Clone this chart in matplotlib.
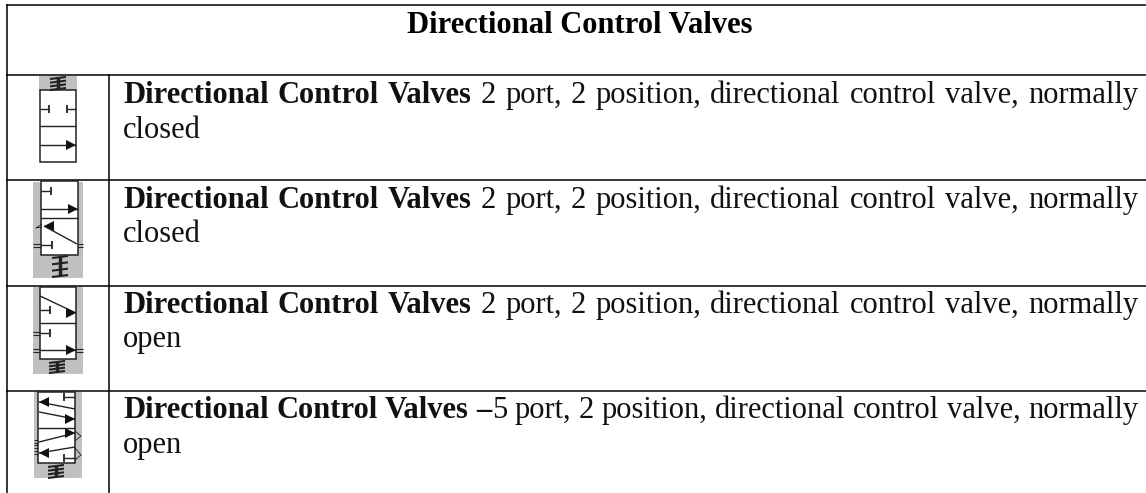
import matplotlib
matplotlib.use("Agg")
import matplotlib.pyplot as plt
from matplotlib.patches import Rectangle, Polygon

W, H = 1146, 493
title = "Directional Control Valves"
bold_label = ["Directional Control Valves"] * 3 + ["Directional Control Valves \u2013"]
first_lines = ["2 port, 2 position, directional control valve, normally"] * 3 + ["5 port, 2 position, directional control valve, normally"]
second_lines = ["closed", "closed", "open", "open"]

h_rules = [5, 75, 180, 285.5, 390.5]
v_rules = [6.5, 109]
line1_base = [103, 208, 313, 418]
line2_base = [138, 242, 347, 453]
TEXT_L, TEXT_R = 123, 1138
FS = 22

plt.rcParams["font.family"] = ["Liberation Serif", "DejaVu Serif"]
fig = plt.figure(figsize=(W / 100, H / 100), dpi=100)
ax = fig.add_axes([0, 0, 1, 1])
ax.set_xlim(0, W); ax.set_ylim(H, 0); ax.axis("off")

for y in h_rules:
    ax.plot([6, W], [y, y], color="#000", lw=1.1, solid_capstyle="butt")
ax.plot([v_rules[0]] * 2, [5, H], color="#000", lw=1.1)
ax.plot([v_rules[1]] * 2, [75, H], color="#000", lw=1.1)

ax.text(580, 33, title, ha="center", va="baseline", fontsize=FS, fontweight="bold", color="#000")

fig.canvas.draw()
rend = fig.canvas.get_renderer()

def width(s, weight):
    t = ax.text(0, 0, s, fontsize=FS, fontweight=weight)
    w = t.get_window_extent(rend).width
    t.remove()
    return w

def justified(bold, regular, y):
    toks = [(b, "bold") for b in bold.split(" ")]
    toks += [(w, "normal") for w in regular.split(" ")]
    joined_dash = bold.endswith("\u2013")
    widths = [width(t, k) for t, k in toks]
    ngaps = len(toks) - 1 - (1 if joined_dash else 0)
    gap = (TEXT_R - TEXT_L - sum(widths)) / ngaps
    x = TEXT_L
    for (t, k), w in zip(toks, widths):
        ax.text(x, y, t, fontsize=FS, fontweight=k, va="baseline", ha="left", color="#111")
        x += w
        if not (joined_dash and t == "\u2013"):
            x += gap

for i in range(4):
    justified(bold_label[i], first_lines[i], line1_base[i])
    ax.text(TEXT_L, line2_base[i], second_lines[i], fontsize=FS, va="baseline", ha="left", color="#111")

GRAY = "#c0c0c0"
def gray(x0, y0, x1, y1):
    ax.add_patch(Rectangle((x0, y0), x1 - x0, y1 - y0, fc=GRAY, ec="none", zorder=1))
def box(x0, y0, x1, y1, mid):
    ax.add_patch(Rectangle((x0, y0), x1 - x0, y1 - y0, fc="white", ec="#222", lw=1.1, zorder=2))
    ln([x0, x1], [mid, mid])
def ln(xs, ys, lw=1.0):
    ax.plot(xs, ys, color="#222", lw=lw, zorder=3, solid_capstyle="butt")
def spring(cx, y0, y1):
    n = 4
    for k in range(n):
        y = y0 + (y1 - y0) * k / (n - 1)
        ln([cx - 8, cx + 8], [y + 1, y - 1], lw=1.5)
    ln([cx, cx], [y0, y1], lw=2.5)
def arrow(x0, y0, x1, y1):
    ln([x0, x1], [y0, y1])
    sx = 1 if x1 > x0 else -1
    ax.add_patch(Polygon([(x1, y1), (x1 - sx * 10, y1 - 5), (x1 - sx * 10, y1 + 5)], fc="#111", ec="none", zorder=4))
def stop_l(x0, x1, y):
    ln([x0, x1], [y, y]); ln([x1, x1], [y - 4, y + 4], lw=1.3)
def ports(x0, x1, y):
    ln([x0, x1], [y - 1.5, y - 1.5], lw=0.8); ln([x0, x1], [y + 1.5, y + 1.5], lw=0.8)

# icon 1
gray(39, 76, 77, 90); spring(58, 78, 89)
box(40, 90, 76, 162, 126)
stop_l(40, 49, 109); stop_l(76, 67, 109)
arrow(40, 145, 76, 145)

# icon 2
gray(33, 182, 83, 278)
box(41, 181, 78, 255, 218)
stop_l(41, 51, 191); arrow(41, 209, 78, 209)
arrow(77, 244, 44, 226)
stop_l(41, 52, 245); ports(33, 41, 245); ports(78, 83, 245)
ln([42, 36, 42], [227, 228, 224], lw=0.6)
spring(60, 257, 276)

# icon 3
gray(33, 287, 83, 374)
box(40, 287, 76, 359, 323)
arrow(40, 296, 76, 313)
stop_l(40, 50, 310); stop_l(40, 50, 333); ports(33, 40, 333)
arrow(40, 350, 76, 350); ports(33, 40, 350); ports(76, 83, 350)
spring(57, 362, 372)

# icon 4
gray(34, 392, 82, 478)
box(38, 392, 75, 463, 428)
stop_l(75, 64, 397)
arrow(75, 409, 39, 402); arrow(39, 412, 75, 419)
arrow(39, 442, 75, 433); arrow(75, 447, 39, 453)
stop_l(75, 64, 458)
for y in (441, 446, 452):
    ports(34, 38, y)
ln([75, 81, 75], [431, 436, 441], lw=0.6); ln([75, 81, 75], [448, 455, 460], lw=0.6)
spring(56, 466, 477)

fig.savefig("out.png", dpi=100)
